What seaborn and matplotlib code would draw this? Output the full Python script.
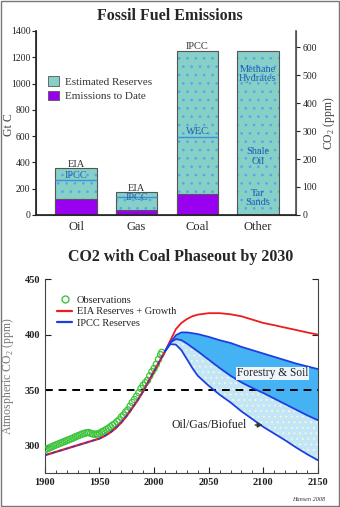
import matplotlib
matplotlib.use("Agg")
import matplotlib.pyplot as plt
import seaborn as sns
import numpy as np
import pandas as pd
from matplotlib.patches import Rectangle, Patch
from matplotlib.lines import Line2D

# ---------------- data: top panel ----------------
categories = ["Oil", "Gas", "Coal", "Other"]
reserves_total = [355, 178, 1245, 1250]
emissions_to_date = [120, 40, 160, 0]
inner_levels = [265, 140, 595, None]          # IPCC (oil, gas), WEC (coal)
inner_names = ["IPCC", "IPCC", "WEC", None]
top_names = ["EIA", "EIA", "IPCC", None]
other_labels = ["Methane\nHydrates", "Shale\nOil", "Tar\nSands"]
other_label_y = [1072, 444, 127]
left_ticks = [0, 200, 400, 600, 800, 1000, 1200, 1400]
right_ticks = [0, 100, 200, 300, 400, 500, 600]

# ---------------- data: bottom panel ----------------
obs_years = [1900, 1902, 1904, 1906, 1908, 1910, 1912, 1914, 1916, 1918, 1920, 1922,
             1924, 1926, 1928, 1930, 1932, 1934, 1936, 1938, 1940, 1942, 1944, 1946,
             1948, 1950, 1952, 1954, 1956, 1958, 1960, 1962, 1964, 1966, 1968, 1970,
             1972, 1974, 1976, 1978, 1980, 1982, 1984, 1986, 1988, 1990, 1992, 1994,
             1996, 1998, 2000, 2002, 2004, 2006, 2007]
obs_co2 = [296.5, 297.3, 298.1, 299.0, 299.9, 300.7, 301.5, 302.3, 303.1, 303.9, 304.7,
           305.5, 306.3, 307.1, 308.1, 308.9, 309.7, 310.5, 311.1, 311.7, 311.9, 311.2,
           310.6, 310.4, 310.6, 311.2, 312.4, 313.4, 314.6, 315.6, 317.1, 318.6, 319.8,
           321.6, 323.2, 325.9, 327.7, 330.4, 332.3, 335.6, 338.9, 341.6, 344.6, 347.8,
           351.6, 354.4, 356.7, 358.9, 362.9, 366.7, 369.6, 373.3, 377.7, 381.9, 384.0]

hist_years = [1900, 1905, 1910, 1915, 1920, 1925, 1930, 1935, 1940, 1945, 1950, 1955,
              1960, 1965, 1970, 1975, 1980, 1985, 1990, 1995, 2000, 2005, 2010]
hist_co2 = [291.5, 293.0, 294.5, 296.0, 297.5, 299.0, 300.5, 302.0, 303.5, 305.0, 306.5,
            309.0, 312.0, 316.0, 321.0, 327.0, 334.0, 341.0, 349.0, 358.0, 367.0, 376.0,
            385.0]

fut_years = [2010, 2015, 2020, 2025, 2030, 2035, 2040, 2050, 2060, 2070, 2080, 2090,
             2100, 2110, 2120, 2130, 2140, 2150]
eia_co2 = [385.0, 395.0, 405.0, 410.5, 414.0, 416.5, 418.0, 419.3, 419.3, 418.3, 416.5,
           413.5, 410.5, 408.5, 406.3, 404.2, 402.0, 400.0]
ipcc_top = [385.0, 393.0, 399.5, 402.0, 402.0, 401.3, 400.5, 398.0, 395.0, 392.5, 389.0,
            386.0, 383.0, 380.0, 377.0, 374.0, 371.5, 369.0]
ipcc_mid = [385.0, 393.0, 396.0, 395.0, 392.0, 388.5, 385.0, 377.5, 370.0, 363.0, 357.0,
            352.0, 347.5, 342.5, 337.5, 332.5, 327.5, 323.0]
ipcc_low = [385.0, 391.5, 391.0, 386.0, 378.0, 370.0, 363.0, 354.0, 346.0, 339.0, 331.0,
            324.0, 317.0, 311.0, 305.0, 298.5, 292.5, 287.0]

x_ticks = [1900, 1950, 2000, 2050, 2100, 2150]
y_ticks = [300, 350, 400, 450]

# ---------------- style ----------------
sns.set_theme(style="ticks")
serif = ["Liberation Serif", "DejaVu Serif"]
plt.rcParams["font.family"] = serif
plt.rcParams["mathtext.fontset"] = "custom"
plt.rcParams["mathtext.rm"] = "Liberation Serif"
plt.rcParams["hatch.linewidth"] = 0.7

fig = plt.figure(figsize=(3.4, 5.07), dpi=100)
fig.patches.append(Rectangle((0.002, 0.002), 0.996, 0.996, transform=fig.transFigure,
                             fill=False, edgecolor="#777777", linewidth=1.0))

teal = "#86d0c8"
purple = "#9a00f0"
blue_txt = "#1f5fb0"
inner_blue = "#3d8fd8"
bar_w = 0.68

# ---------------- top panel ----------------
ax1 = fig.add_axes([0.106, 0.576, 0.765, 0.363])
df_top = pd.DataFrame({"cat": categories, "res": reserves_total, "emi": emissions_to_date})
sns.barplot(data=df_top, x="cat", y="res", color=teal, width=bar_w, ax=ax1,
            edgecolor="#555555", linewidth=0.8, saturation=1)
for p in ax1.patches:
    p.set_hatch("..")
    p._hatch_color = matplotlib.colors.to_rgba("#56a6ea")
sns.barplot(data=df_top, x="cat", y="emi", color=purple, width=bar_w, ax=ax1,
            edgecolor="#555555", linewidth=0.8, saturation=1)

# label offsets (GtC) relative to the level they annotate
inner_offsets = [39, -10, 38, None]
top_offsets = [29, 27, 34, None]
for i, (lvl, nm) in enumerate(zip(inner_levels, inner_names)):
    if lvl is None:
        continue
    ax1.hlines(lvl, i - bar_w / 2, i + bar_w / 2, color=inner_blue, linewidth=1.0, zorder=4)
    ax1.text(i, lvl + inner_offsets[i], nm, ha="center", va="center", fontsize=7.5,
             color=blue_txt, zorder=5)
for i, nm in enumerate(top_names):
    if nm is None:
        continue
    ax1.text(i, reserves_total[i] + top_offsets[i], nm, ha="center", va="center",
             fontsize=7.5, color="#333333", zorder=5)
for lab, yv in zip(other_labels, other_label_y):
    ax1.text(3, yv, lab, ha="center", va="center", fontsize=7.5, color=blue_txt,
             linespacing=1.05, zorder=5)

ax1.set_xlim(-0.66, 3.63)
ax1.set_ylim(0, 1400)
ax1.set_yticks(left_ticks)
ax1.tick_params(axis="y", labelsize=7, length=3, width=0.8, pad=1.0, colors="#222222")
ax1.tick_params(axis="x", labelsize=9, length=0, pad=4)
ax1.set_xlabel("")
ax1.set_ylabel("Gt C", fontsize=8.5, color="#444444")
ax1.yaxis.set_label_coords(-0.082, 0.49)
ax1.spines["top"].set_visible(False)
for s in ["left", "bottom", "right"]:
    ax1.spines[s].set_color("#555555")
    ax1.spines[s].set_linewidth(0.8)

ax1r = ax1.twinx()
ax1r.set_ylim(0, 658)
ax1r.set_yticks(right_ticks)
ax1r.tick_params(axis="y", labelsize=7, length=3, width=0.8, pad=1.5, colors="#222222")
ax1r.spines["top"].set_visible(False)
ax1r.spines["right"].set_color("#555555")
ax1r.set_ylabel("CO$_2$ (ppm)", fontsize=8.5, color="#444444", labelpad=3)

leg1 = ax1.legend(handles=[Patch(facecolor=teal, edgecolor="#555555", linewidth=0.6),
                           Patch(facecolor=purple, edgecolor="#555555", linewidth=0.6)],
                  labels=["Estimated Reserves", "Emissions to Date"],
                  loc="upper left", bbox_to_anchor=(0.03, 0.78), frameon=False,
                  fontsize=8, handlelength=1.0, handleheight=1.0, handletextpad=0.5,
                  labelspacing=0.35, borderaxespad=0)
for t in leg1.get_texts():
    t.set_color("#333333")

fig.text(0.5, 0.968, "Fossil Fuel Emissions", ha="center", va="center",
         fontsize=11.5, fontweight="bold")

# ---------------- bottom panel ----------------
ax2 = fig.add_axes([0.132, 0.067, 0.803, 0.3826])
fy = np.array(fut_years)
ax2.fill_between(fy, ipcc_mid, ipcc_top, color="#45b3f3", linewidth=0, zorder=1)
ax2.fill_between(fy, ipcc_low, ipcc_mid, facecolor="#c3e5f8", edgecolor="#f4f8d8",
                 hatch="...", linewidth=0, zorder=1)

ax2.axhline(350, color="black", linestyle=(0, (4, 3)), linewidth=1.4, zorder=2)

df_obs = pd.DataFrame({"year": obs_years, "co2": obs_co2})
sns.scatterplot(data=df_obs, x="year", y="co2", ax=ax2, marker="o", s=20,
                facecolor="none", edgecolor="#3cc43c", linewidth=0.9, zorder=3)

df_hist = pd.DataFrame({"year": hist_years, "co2": hist_co2})
sns.lineplot(data=df_hist, x="year", y="co2", ax=ax2, color="#ee1c1c", linewidth=1.6, zorder=4)
sns.lineplot(data=df_hist, x="year", y="co2", ax=ax2, color="#2040e0", linewidth=1.0,
             linestyle=(0, (3, 2)), zorder=5)

df_fut = pd.DataFrame({"year": fut_years, "eia": eia_co2, "top": ipcc_top,
                       "mid": ipcc_mid, "low": ipcc_low})
sns.lineplot(data=df_fut, x="year", y="eia", ax=ax2, color="#ee1c1c", linewidth=1.3, zorder=4)
for col in ["top", "mid", "low"]:
    sns.lineplot(data=df_fut, x="year", y=col, ax=ax2, color="#1d3fe0", linewidth=1.3, zorder=5)

ax2.text(2076, 365.2, "Forestry & Soil", fontsize=8.3, va="center", ha="left", color="#222222",
         bbox=dict(facecolor="#eef6fb", edgecolor="none", pad=0.5), zorder=6)
ax2.text(2015.5, 318.7, "Oil/Gas/Biofuel", fontsize=8.5, va="center", ha="left",
         color="#222222", zorder=6)
ax2.annotate("", xy=(2102, 318.7), xytext=(2090, 318.7),
             arrowprops=dict(arrowstyle="-|>", color="#333333", lw=1.0,
                             mutation_scale=7), zorder=6)

ax2.set_xlim(1900, 2150)
ax2.set_ylim(275.5, 450)
ax2.set_xticks(x_ticks)
ax2.set_xticks(np.arange(1900, 2151, 10), minor=True)
ax2.set_yticks(y_ticks)
ax2.tick_params(axis="both", which="major", direction="in", labelsize=7.5, length=4,
                width=0.8, colors="#222222", top=False, right=True)
ax2.tick_params(axis="x", which="minor", direction="in", length=2.5, width=0.6)
for lab in ax2.get_xticklabels() + ax2.get_yticklabels():
    lab.set_fontweight("bold")
ax2.set_xlabel("")
ax2.set_ylabel("Atmospheric CO$_2$ (ppm)", fontsize=8.5, color="#777777", labelpad=6)
ax2.spines["top"].set_visible(False)
for s in ["left", "bottom", "right"]:
    ax2.spines[s].set_color("#444444")
    ax2.spines[s].set_linewidth(0.8)

h_obs = Line2D([], [], marker="o", linestyle="none", markerfacecolor="none",
               markeredgecolor="#3cc43c", markersize=5, markeredgewidth=1.0)
h_eia = Line2D([], [], color="#ee1c1c", linewidth=1.6)
h_ipcc = Line2D([], [], color="#1d3fe0", linewidth=1.6)
leg2 = ax2.legend(handles=[h_obs, h_eia, h_ipcc],
                  labels=["Observations", "EIA Reserves + Growth", "IPCC Reserves"],
                  loc="upper left", bbox_to_anchor=(0.03, 0.935), frameon=False,
                  fontsize=7.5, handlelength=1.4, handletextpad=0.5, labelspacing=0.2,
                  borderaxespad=0)
for t in leg2.get_texts():
    t.set_color("#222222")

fig.text(0.53, 0.493, "CO2 with Coal Phaseout by 2030", ha="center", va="center",
         fontsize=11.5, fontweight="bold")
fig.text(0.955, 0.01, "Hansen 2008", ha="right", va="bottom", fontsize=4.5,
         style="italic", color="#333333")

fig.savefig("out.png", dpi=100)
